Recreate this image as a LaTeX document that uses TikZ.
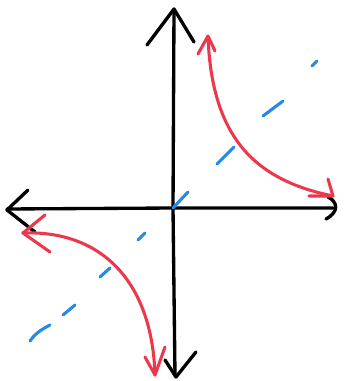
\documentclass[tikz,border=0pt]{standalone}
\usetikzlibrary{arrows.meta,positioning,calc}
\definecolor{curvered}{RGB}{236,56,76}
\definecolor{asymblue}{RGB}{38,136,232}

\begin{document}
\begin{tikzpicture}[x=0.75pt,y=-0.75pt,
    axis/.style={line width=2.5pt, black, line cap=round, line join=round},
    branch/.style={line width=2.3pt, curvered, line cap=round, line join=round},
    asym/.style={line width=2.3pt, asymblue, line cap=round}]
    \useasboundingbox (0,0) rectangle (344,381);

    % Axes
    \coordinate (O) at (173,208);
    \draw[axis] (7,209) -- (O) -- (333,208);
    \draw[axis] (174,10) -- (O) -- (175,376);

    % Open arrowheads of the axes
    \draw[axis] (28,190) -- (7,210) -- (35,232);
    \draw[axis] (147,45) -- (174,9) -- (194,42);
    \draw[axis] (165,360) -- (176,377) -- (196,352);
    \draw[axis] (328,197) .. controls (338,202) and (339,212) .. (326,219);

    % Dashed asymptote y = x
    \draw[asym] (O) -- (188,192);
    \draw[asym] (217,164) -- (234,147);
    \draw[asym] (263,116) -- (283,101);
    \draw[asym] (312,66) -- (317,61);
    \draw[asym] (145,233) -- (138,240);
    \draw[asym] (110,268) -- (100,277);
    \draw[asym] (75,305) -- (63,315);
    \draw[asym] (50,325) .. controls (40,330) and (34,335) .. (30,341);

    % Upper branch of the hyperbola
    \draw[branch] (208,37) .. controls (212,138) and (255,180) .. (333,196);
    \draw[branch] (198,54) -- (208,36) -- (215,51);
    \draw[branch] (328,179) -- (333,196) -- (309,196);

    % Lower branch of the hyperbola
    \draw[branch] (23,233) .. controls (100,230) and (152,280) .. (155,375);
    \draw[branch] (45,215) -- (23,233) -- (50,252);
    \draw[branch] (145,357) -- (155,375) -- (165,347);
\end{tikzpicture}
\end{document}
